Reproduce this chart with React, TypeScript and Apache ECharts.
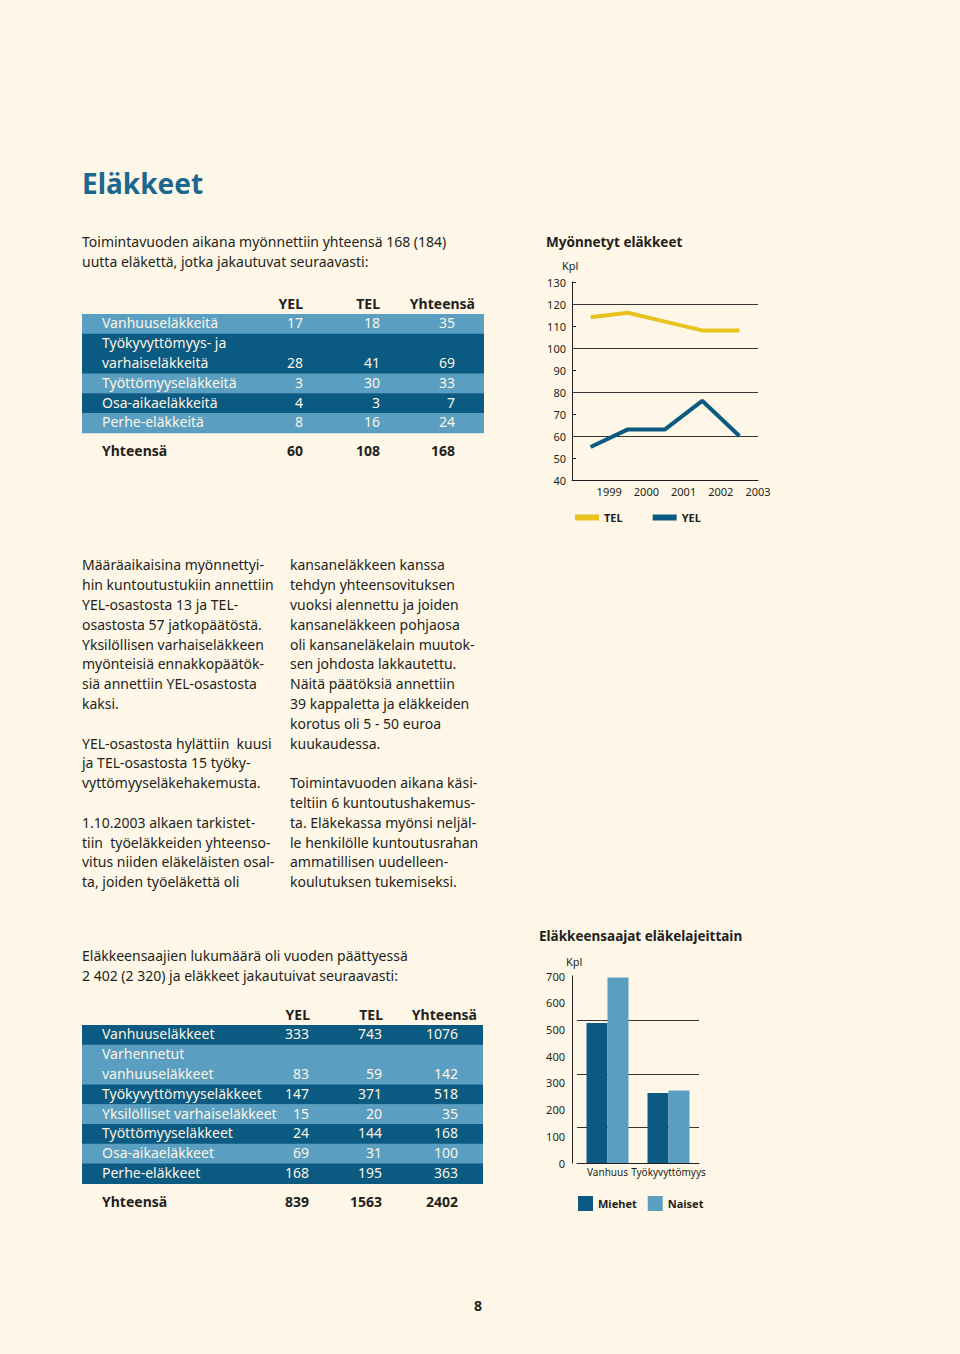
import React, { useEffect, useRef } from "react";
import * as echarts from "echarts";

// ---------- data ----------
const years = ["1999", "2000", "2001", "2002", "2003"];
const telNew = [114, 116, 112, 108, 108];
const yelNew = [55, 63, 63, 76, 60];
const lineGuideValues = [120, 100, 80, 60];

const barCategories = ["Vanhuus", "Työkyvyttömyys"];
const menCounts = [524, 262];
const womenCounts = [694, 271];
const barGuideValues = [133, 333, 533];

const t1Labels = ["Vanhuuseläkkeitä", "Työkyvyttömyys- ja\nvarhaiseläkkeitä", "Työttömyyseläkkeitä", "Osa-aikaeläkkeitä", "Perhe-eläkkeitä"];
const t1Yel = [17, 28, 3, 4, 8];
const t1Tel = [18, 41, 30, 3, 16];
const t1Sum = [35, 69, 33, 7, 24];
const t1Totals = [60, 108, 168];

const t2Labels = ["Vanhuuseläkkeet", "Varhennetut\nvanhuuseläkkeet", "Työkyvyttömyyseläkkeet", "Yksilölliset varhaiseläkkeet", "Työttömyyseläkkeet", "Osa-aikaeläkkeet", "Perhe-eläkkeet"];
const t2Yel = [333, 83, 147, 15, 24, 69, 168];
const t2Tel = [743, 59, 371, 20, 144, 31, 195];
const t2Sum = [1076, 142, 518, 35, 168, 100, 363];
const t2Totals = [839, 1563, 2402];

const tableHeaders = ["YEL", "TEL", "Yhteensä"];

const col1Text = [
  "Määräaikaisina myönnettyi-",
  "hin kuntoutustukiin annettiin",
  "YEL-osastosta 13 ja TEL-",
  "osastosta 57 jatkopäätöstä.",
  "Yksilöllisen varhaiseläkkeen",
  "myönteisiä ennakkopäätök-",
  "siä annettiin YEL-osastosta",
  "kaksi.",
  "",
  "YEL-osastosta hylättiin  kuusi",
  "ja TEL-osastosta 15 työky-",
  "vyttömyyseläkehakemusta.",
  "",
  "1.10.2003 alkaen tarkistet-",
  "tiin  työeläkkeiden yhteenso-",
  "vitus niiden eläkeläisten osal-",
  "ta, joiden työeläkettä oli",
];
const col2Text = [
  "kansaneläkkeen kanssa",
  "tehdyn yhteensovituksen",
  "vuoksi alennettu ja joiden",
  "kansaneläkkeen pohjaosa",
  "oli kansaneläkelain muutok-",
  "sen johdosta lakkautettu.",
  "Näitä päätöksiä annettiin",
  "39 kappaletta ja eläkkeiden",
  "korotus oli 5 - 50 euroa",
  "kuukaudessa.",
  "",
  "Toimintavuoden aikana käsi-",
  "teltiin 6 kuntoutushakemus-",
  "ta. Eläkekassa myönsi neljäl-",
  "le henkilölle kuntoutusrahan",
  "ammatillisen uudelleen-",
  "koulutuksen tukemiseksi.",
];
const intro1 = ["Toimintavuoden aikana myönnettiin yhteensä 168 (184)", "uutta eläkettä, jotka jakautuvat seuraavasti:"];
const intro2 = ["Eläkkeensaajien lukumäärä oli vuoden päättyessä", "2 402 (2 320) ja eläkkeet jakautuivat seuraavasti:"];

// ---------- style ----------
const FONT = "Noto Sans";
const BG = "#fef7e7";
const INK = "#231f20";
const LIGHT = "#5a9fc2";
const DARK = "#0b5a82";
const YELLOW = "#e8c21e";
const TITLE = "#1b6790";
const ROW_H = 19.8;
const FS = 14;
const DY = -1;

function txt(x: number, y: number, text: string, opts: any = {}) {
  const align = opts.align || "left";
  const va = opts.va || "middle";
  return {
    type: "text",
    x,
    y: y + DY,
    silent: true,
    style: {
      text,
      fill: opts.fill || INK,
      fontSize: opts.fontSize || FS,
      fontFamily: FONT,
      fontWeight: opts.bold ? "bold" : "normal",
      align,
      verticalAlign: va,
      textAlign: align,
      textVerticalAlign: va,
      lineHeight: opts.lineHeight,
    },
  };
}

function buildTable(cfg: {
  headerY: number;
  top: number;
  totalY: number;
  left: number;
  right: number;
  labels: string[];
  cols: number[][];
  totals: number[];
  numRights: number[];
  headRights: number[];
  firstDark: boolean;
}) {
  const els: any[] = [];
  tableHeaders.forEach((h, i) => els.push(txt(cfg.headRights[i], cfg.headerY, h, { align: "right", bold: true })));
  let y = cfg.top;
  cfg.labels.forEach((lab, r) => {
    const lines = lab.split("\n");
    const h = lines.length * ROW_H;
    const dark = cfg.firstDark ? r % 2 === 0 : r % 2 === 1;
    els.push({
      type: "rect",
      silent: true,
      shape: { x: cfg.left, y, width: cfg.right - cfg.left, height: h + 0.5 },
      style: { fill: dark ? DARK : LIGHT },
    });
    lines.forEach((ln, k) => els.push(txt(102, y + ROW_H * (k + 0.5), ln, { fill: "#fdf4e3" })));
    const ny = y + ROW_H * (lines.length - 0.5);
    cfg.cols.forEach((col, c) => els.push(txt(cfg.numRights[c], ny, String(col[r]), { align: "right", fill: "#fdf4e3" })));
    y += h;
  });
  els.push(txt(102, cfg.totalY, "Yhteensä", { bold: true }));
  cfg.totals.forEach((v, c) => els.push(txt(cfg.numRights[c], cfg.totalY, String(v), { align: "right", bold: true })));
  return els;
}

export default function App() {
  const ref = useRef<HTMLDivElement>(null);
  useEffect(() => {
    document.body.style.margin = "0";
    document.body.style.background = BG;
    const chart = echarts.init(ref.current!, undefined, { renderer: "svg" });

    const graphics: any[] = [
      txt(82, 184, "Eläkkeet", { fontSize: 28, bold: true, fill: TITLE }),
      txt(82, 232, intro1.join("\n"), { va: "top", lineHeight: 20 }),
      txt(546, 243, "Myönnetyt eläkkeet", { bold: true, fontSize: 13.5 }),
      txt(562, 266, "Kpl", { fontSize: 11 }),
      txt(82, 556, col1Text.join("\n"), { va: "top", lineHeight: ROW_H }),
      txt(290, 556, col2Text.join("\n"), { va: "top", lineHeight: ROW_H }),
      txt(82, 946, intro2.join("\n"), { va: "top", lineHeight: 20 }),
      txt(539, 937, "Eläkkeensaajat eläkelajeittain", { bold: true, fontSize: 13.5 }),
      txt(566, 962, "Kpl", { fontSize: 11 }),
      txt(478, 1306, "8", { bold: true, align: "center" }),
      ...buildTable({
        headerY: 304, top: 314, totalY: 451, left: 82, right: 484,
        labels: t1Labels, cols: [t1Yel, t1Tel, t1Sum], totals: t1Totals,
        numRights: [303, 380, 455], headRights: [303, 380, 475], firstDark: false,
      }),
      ...buildTable({
        headerY: 1015, top: 1025, totalY: 1202, left: 82, right: 483,
        labels: t2Labels, cols: [t2Yel, t2Tel, t2Sum], totals: t2Totals,
        numRights: [309, 382, 458], headRights: [310, 383, 477], firstDark: true,
      }),
    ];

    const axisLabelStyle = { color: INK, fontSize: 11, fontFamily: FONT };

    chart.setOption({
      animation: false,
      backgroundColor: BG,
      textStyle: { fontFamily: FONT },
      graphic: graphics,
      legend: [
        {
          left: 570, top: 507, itemWidth: 24, itemHeight: 6, itemGap: 30, icon: "rect",
          data: ["TEL", "YEL"],
          textStyle: { color: INK, fontSize: 11, fontWeight: "bold", fontFamily: FONT },
          selectedMode: false,
        },
        {
          left: 573, top: 1191, itemWidth: 15, itemHeight: 15, itemGap: 11, icon: "rect",
          data: ["Miehet", "Naiset"],
          textStyle: { color: INK, fontSize: 11, fontWeight: "bold", fontFamily: FONT },
          selectedMode: false,
        },
      ],
      grid: [
        { left: 572, top: 282, width: 186, height: 198 },
        { left: 577, top: 976, width: 122, height: 187 },
      ],
      xAxis: [
        {
          gridIndex: 0, type: "category", data: years, boundaryGap: true,
          axisLine: { lineStyle: { color: INK, width: 1 } },
          axisTick: { inside: true, length: 4, lineStyle: { color: INK } },
          axisLabel: { show: false },
        },
        {
          gridIndex: 0, type: "category", data: ["", ...years], boundaryGap: false, position: "bottom",
          axisLine: { show: false }, axisTick: { show: false },
          axisLabel: { ...axisLabelStyle, margin: 6, interval: 0 },
        },
        {
          gridIndex: 1, type: "category", data: barCategories,
          axisLine: { lineStyle: { color: INK, width: 1 } },
          axisTick: { show: false },
          axisLabel: { ...axisLabelStyle, fontSize: 10, margin: 4, interval: 0, hideOverlap: false },
        },
      ],
      yAxis: [
        {
          gridIndex: 0, type: "value", min: 40, max: 130, interval: 10,
          axisLine: { show: true, lineStyle: { color: INK, width: 1 } },
          axisTick: { show: true, inside: true, length: 4, lineStyle: { color: INK } },
          splitLine: { show: false },
          axisLabel: { ...axisLabelStyle, margin: 6 },
        },
        {
          gridIndex: 1, type: "value", min: 0, max: 700, interval: 100, offset: 5,
          axisLine: { show: true, lineStyle: { color: INK, width: 1 } },
          axisTick: { show: false },
          splitLine: { show: false },
          axisLabel: { ...axisLabelStyle, margin: 7 },
        },
      ],
      series: [
        {
          name: "TEL", type: "line", xAxisIndex: 0, yAxisIndex: 0, data: telNew,
          symbol: "none", color: YELLOW, lineStyle: { width: 4, color: YELLOW },
          markLine: {
            silent: true, symbol: "none", z: 1, label: { show: false },
            lineStyle: { color: "#3a3637", width: 1, type: "solid" },
            data: lineGuideValues.map((v) => ({ yAxis: v })),
          },
        },
        {
          name: "YEL", type: "line", xAxisIndex: 0, yAxisIndex: 0, data: yelNew,
          symbol: "none", color: DARK, lineStyle: { width: 4, color: DARK },
        },
        {
          name: "Miehet", type: "bar", xAxisIndex: 2, yAxisIndex: 1, data: menCounts,
          color: DARK, barWidth: 21, barGap: "0%",
          markLine: {
            silent: true, symbol: "none", z: 1, label: { show: false },
            lineStyle: { color: "#3a3637", width: 1, type: "solid" },
            data: barGuideValues.map((v) => ({ yAxis: v })),
          },
        },
        {
          name: "Naiset", type: "bar", xAxisIndex: 2, yAxisIndex: 1, data: womenCounts,
          color: LIGHT, barWidth: 21, barGap: "0%",
        },
      ],
    });
    return () => chart.dispose();
  }, []);
  return <div ref={ref} style={{ width: 960, height: 1354 }} />;
}
